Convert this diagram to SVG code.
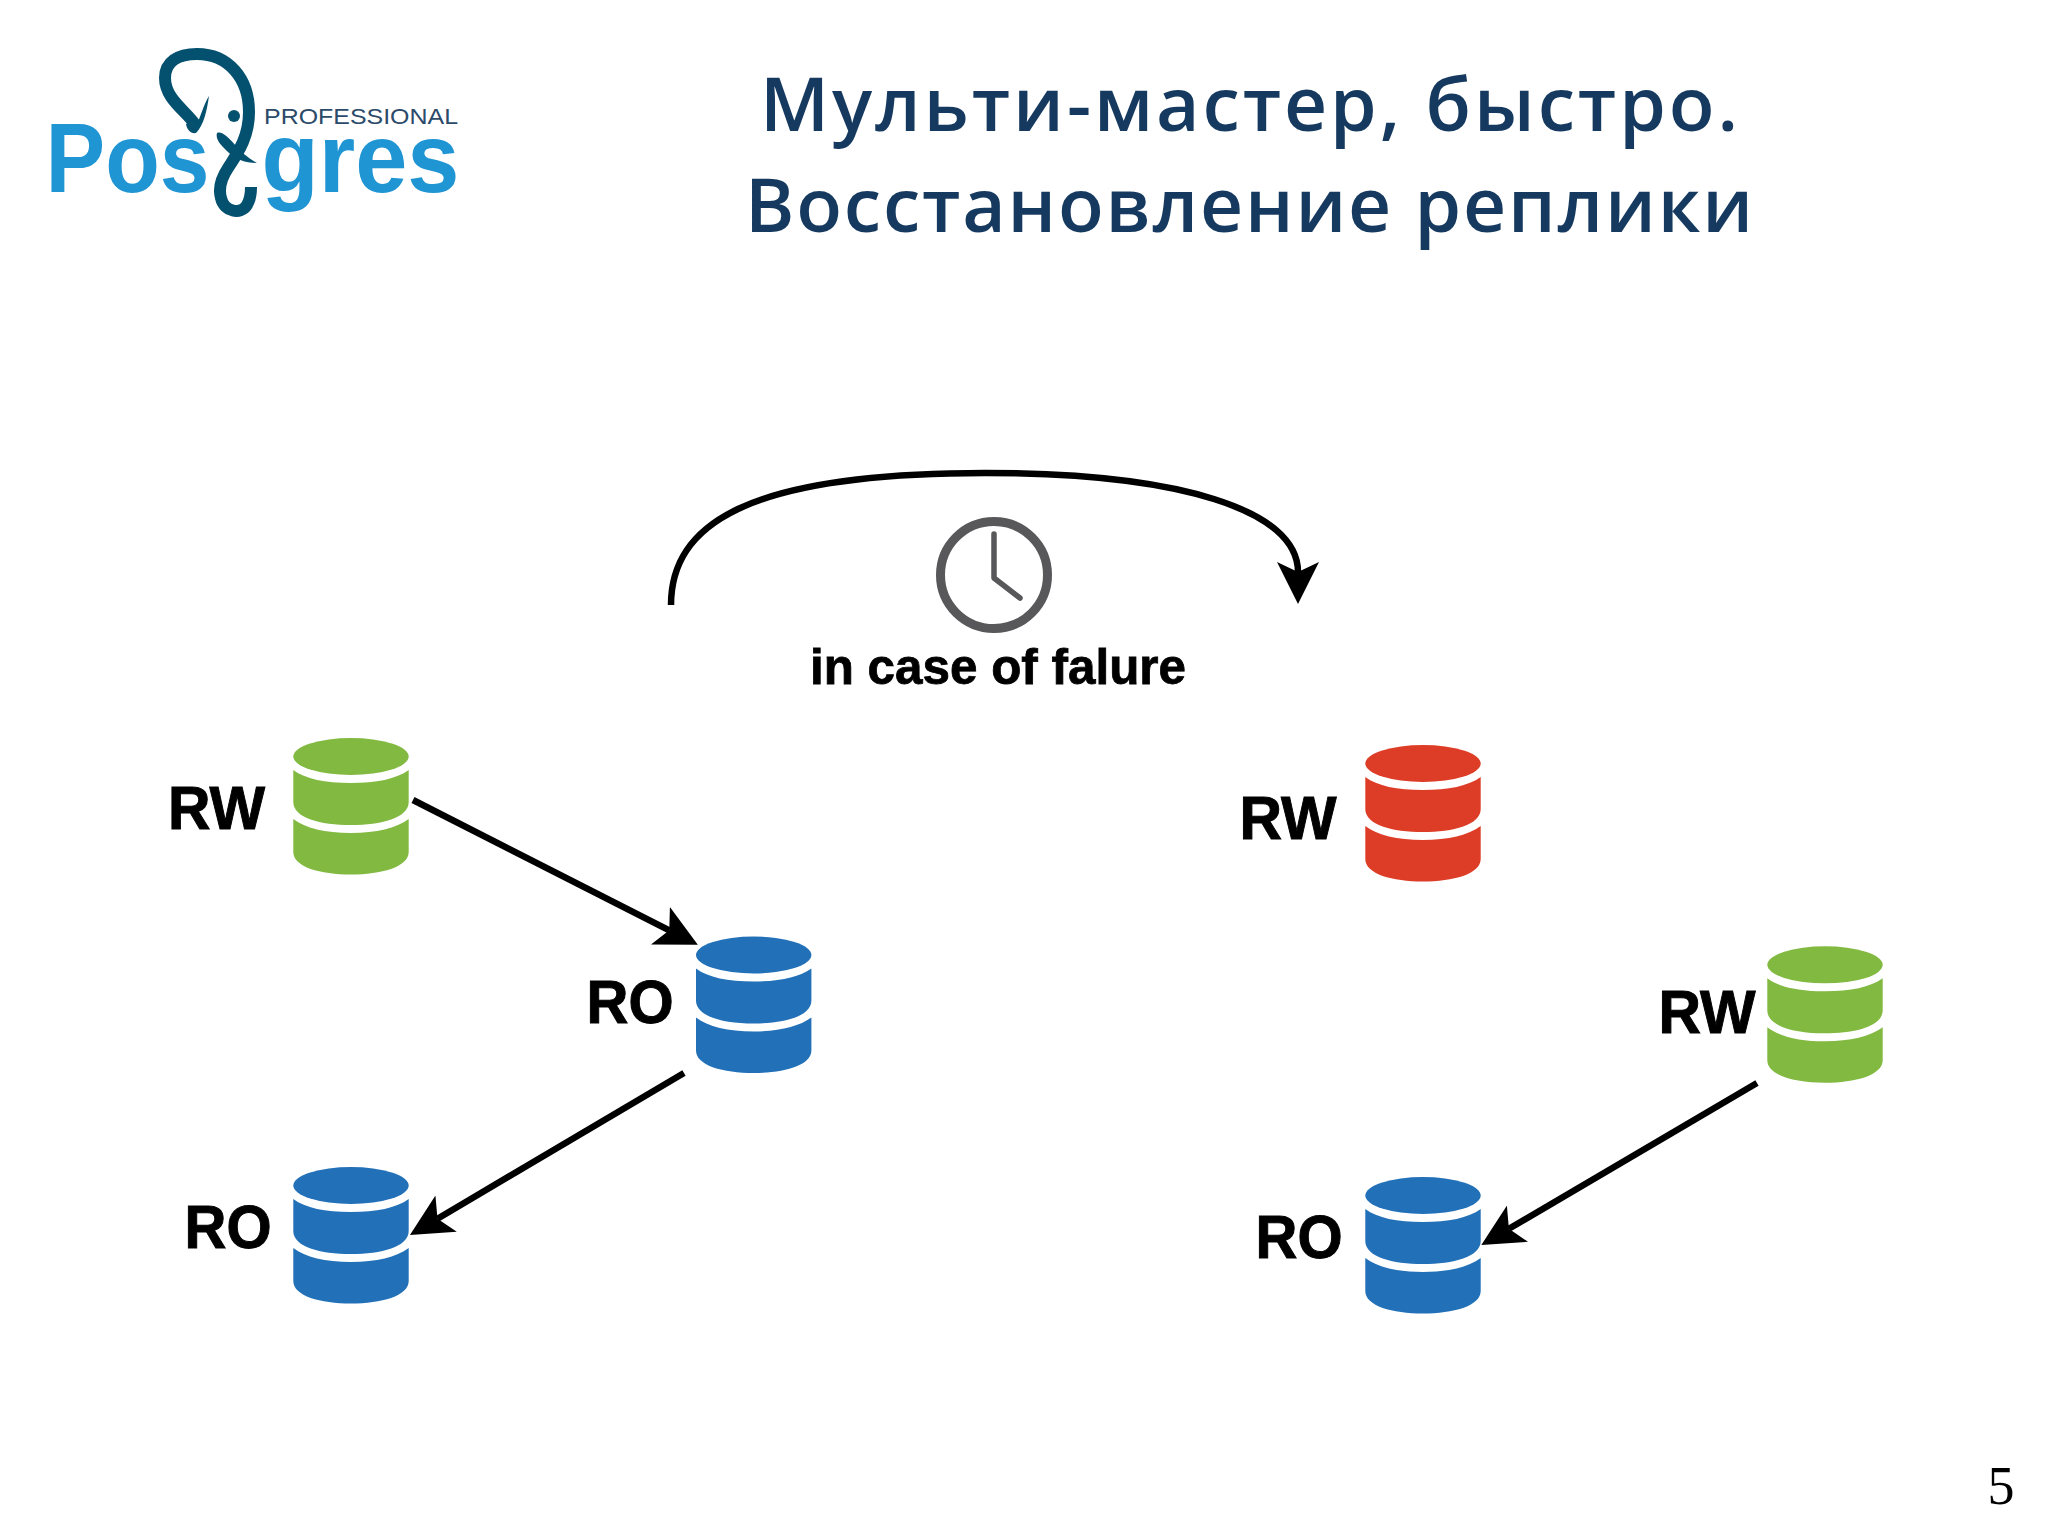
<svg xmlns="http://www.w3.org/2000/svg" width="2048" height="1536" viewBox="0 0 2048 1536">
<style>
.title{font-family:"Open Sans","Noto Sans","DejaVu Sans",sans-serif;font-weight:600;font-size:75px;fill:#163a5f}
.lbl{font-family:"Liberation Sans",Arial,sans-serif;font-weight:700;font-size:62px;fill:#000;stroke:#000;stroke-width:1}
.logo{font-family:"Liberation Sans",Arial,sans-serif;font-weight:700;font-size:98px;fill:#2095d4}
.conn{fill:none;stroke:#000;stroke-width:6.5}
.green{fill:#82b941}.blue{fill:#2271b8}.red{fill:#dd3d26}
</style>
<defs>
<marker id="head" markerUnits="userSpaceOnUse" viewBox="0 0 42 42" markerWidth="42" markerHeight="42" refX="10" refY="21" orient="auto"><path d="M0 0L42 21L0 42L10 21Z" fill="#000"/></marker>
<g id="db">
<ellipse cx="57.7" cy="18.5" rx="57.7" ry="18.5"/>
<path d="M0 32C12 41 32 45 57.7 45C83 45 103 41 115.4 32V64C115.4 80 88 87 57.7 87C27 87 0 80 0 64Z"/>
<path d="M0 81C12 90 32 95 57.7 95C83 95 103 90 115.4 81V114C115.4 129 88 136.5 57.7 136.5C27 136.5 0 129 0 114Z"/>
</g>
</defs>
<rect width="2048" height="1536" fill="#fff"/>
<g id="logo">
<text class="logo" x="45.5" y="191.7" textLength="164" lengthAdjust="spacingAndGlyphs">Pos</text>
<text class="logo" x="261.5" y="191.7" textLength="198" lengthAdjust="spacingAndGlyphs">gres</text>
<text x="264" y="124.3" textLength="194" lengthAdjust="spacingAndGlyphs" font-family="Liberation Sans, Arial, sans-serif" font-size="22.5" fill="#2c4a6a">PROFESSIONAL</text>
<path d="M196 126C188 112 165 100 165 78C165 62 178 54 197 54C228 54 249 78 249 112C249 135 240 150 228 168C220 180 219 191 221 198C224 212 241 215 247 205C250 200 251 194 251 187" fill="none" stroke="#04506f" stroke-width="12"/>
<path d="M209 96C207 110 204 125 196 133C191 134 187 130 186 124L193 120L198 122C202 112 205 102 209 96Z" fill="#04506f"/>
<circle cx="234" cy="116" r="6" fill="#04506f"/>
<path d="M217 133C222 131 228 137 236 146C240 151 248 158 257 163C246 163 236 160 228 152C222 146 215 140 217 133Z" fill="#04506f"/>
</g>
<g id="title">
<text class="title" x="760" y="131" textLength="978" lengthAdjust="spacing">Мульти-мастер, быстро.</text>
<text class="title" x="745" y="232" textLength="1008" lengthAdjust="spacing">Восстановление реплики</text>
</g>
<g id="connectors">
<path class="conn" d="M671 605C671 525 745 473 985 473C1180 473 1298 510 1298 572" marker-end="url(#head)"/>
<line class="conn" x1="413" y1="800" x2="669.3" y2="930.3" marker-end="url(#head)"/>
<line class="conn" x1="684" y1="1073" x2="437.5" y2="1218.7" marker-end="url(#head)"/>
<line class="conn" x1="1757" y1="1083" x2="1508.9" y2="1228.8" marker-end="url(#head)"/>
</g>
<g id="clock" fill="none" stroke="#58585a">
<circle cx="994" cy="575" r="53.5" stroke-width="9"/>
<path d="M994 534V578L1020 598" stroke-width="5.5" stroke-linecap="round" stroke-linejoin="round"/>
</g>
<text id="clock-label" class="lbl" style="font-size:50px;stroke-width:.8" x="810" y="684" textLength="376" lengthAdjust="spacingAndGlyphs">in case of falure</text>
<g id="node-rw-left"><use href="#db" class="green" x="293.3" y="738"/><text class="lbl" x="168" y="829" textLength="97" lengthAdjust="spacingAndGlyphs">RW</text></g>
<g id="node-ro-mid"><use href="#db" class="blue" x="696" y="936.5"/><text class="lbl" x="586.5" y="1023" textLength="87" lengthAdjust="spacingAndGlyphs">RO</text></g>
<g id="node-ro-left"><use href="#db" class="blue" x="293.3" y="1167"/><text class="lbl" x="184.5" y="1248" textLength="87" lengthAdjust="spacingAndGlyphs">RO</text></g>
<g id="node-rw-red"><use href="#db" class="red" x="1365.3" y="745"/><text class="lbl" x="1239.5" y="839" textLength="97" lengthAdjust="spacingAndGlyphs">RW</text></g>
<g id="node-rw-right"><use href="#db" class="green" x="1767.3" y="946.3"/><text class="lbl" x="1658.5" y="1033" textLength="97" lengthAdjust="spacingAndGlyphs">RW</text></g>
<g id="node-ro-right"><use href="#db" class="blue" x="1365.3" y="1177"/><text class="lbl" x="1255.5" y="1258" textLength="87" lengthAdjust="spacingAndGlyphs">RO</text></g>
<text id="page" x="1987.5" y="1504" font-family="Liberation Serif, serif" font-size="54" fill="#000">5</text>
</svg>
